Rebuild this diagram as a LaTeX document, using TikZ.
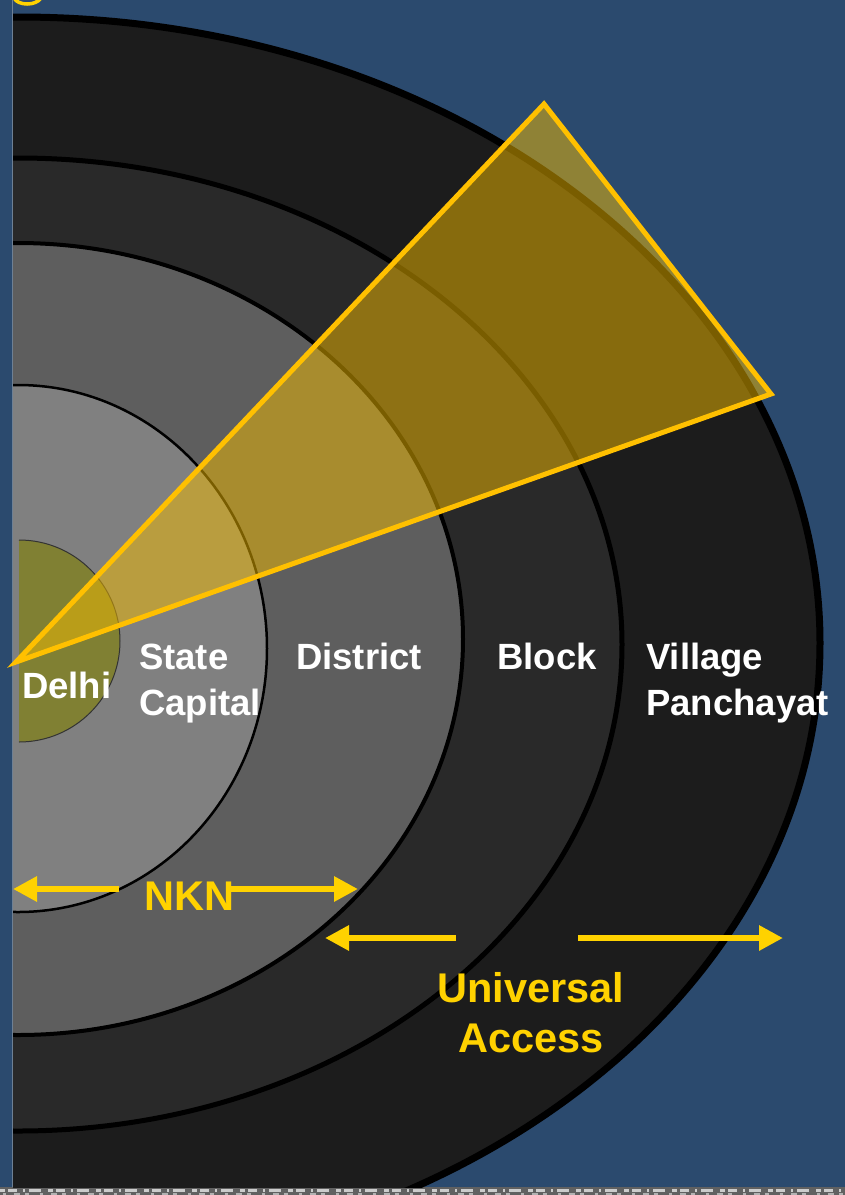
\documentclass[tikz,border=0pt]{standalone}
\usepackage{fontspec}
\setmainfont{Liberation Sans}
\usetikzlibrary{arrows.meta}
\definecolor{bgblue}{RGB}{43,74,110}
\definecolor{ringA}{RGB}{28,28,28}
\definecolor{ringB}{RGB}{41,41,41}
\definecolor{ringC}{RGB}{94,94,94}
\definecolor{ringD}{RGB}{128,128,128}
\definecolor{delhiC}{RGB}{128,128,51}
\definecolor{goldfill}{RGB}{243,186,0}
\definecolor{goldline}{RGB}{255,192,0}
\definecolor{ytext}{RGB}{255,210,0}
\definecolor{edgegray}{RGB}{110,128,148}
\tikzset{
  lbl/.style={text=white, inner sep=0pt, align=left, font=\bfseries\fontsize{36.5}{46}\selectfont},
  ylbl/.style={text=ytext, inner sep=0pt, font=\bfseries\fontsize{41.5}{50}\selectfont},
  yarrow/.style={draw=ytext, line width=6.5pt, -{Triangle[length=24pt,width=24pt]}},
  ringline/.style={draw=black}
}
\begin{document}
\begin{tikzpicture}[x=1pt,y=-1pt]
\useasboundingbox (0,0) rectangle (845,1195);
\fill[bgblue] (0,0) rectangle (845,1195);
% bottom noisy strip
\fill[black!62] (0,1187) rectangle (845,1195);
\draw[white!80!black, line width=3pt, dash pattern=on 5pt off 3pt on 9pt off 6pt on 2pt off 4pt on 12pt off 7pt] (0,1190) -- (845,1190);
\draw[black!30, line width=2pt, dash pattern=on 3pt off 8pt on 6pt off 5pt on 4pt off 11pt] (3,1193.5) -- (845,1193.5);
% fragment of title letter at top
\draw[ytext, line width=3.5pt] (14,-2) .. controls (18,6) and (36,6) .. (41,-2);
\begin{scope}
  \clip (13,-20) rectangle (845,1187);
  \filldraw[fill=ringA, ringline, line width=7pt] (18,643) ellipse [x radius=802, y radius=626];
  \filldraw[fill=ringB, ringline, line width=5pt] (18,644.5) ellipse [x radius=604, y radius=486.5];
  \filldraw[fill=ringC, ringline, line width=4pt] (18,639) ellipse [x radius=445, y radius=396];
  \filldraw[fill=ringD, ringline, line width=2.5pt] (18,648.5) ellipse [x radius=249, y radius=263.5];
  \fill[delhiC] (19,742) arc[start angle=90, end angle=-90, radius=101] -- cycle;
  \draw[black!80, line width=1pt] (19,742) arc[start angle=90, end angle=-90, radius=101];
\end{scope}
\draw[edgegray, line width=1pt] (12.5,0) -- (12.5,1187);
% wedge
\filldraw[fill=goldfill, fill opacity=0.5, draw=goldline, line width=5pt, line join=miter]
  (16,662) -- (544,104) -- (771,394) -- cycle;
% labels (base anchor of multi-line nodes = last line)
\node[lbl, anchor=base west] (delhi) at (22,698) {Delhi};
\node[lbl, anchor=base west] (state) at (139,715) {State\\Capital};
\node[lbl, anchor=base west] (district) at (296,669) {District};
\node[lbl, anchor=base west] (block) at (497,669) {Block};
\node[lbl, anchor=base west] (village) at (646,715) {Village\\Panchayat};
\node[ylbl, anchor=base west] (nkn) at (144,910) {NKN};
\node[ylbl, align=center, anchor=base] (ua) at (531,1052) {Universal\\Access};
% arrows
\coordinate (nknLs) at (119,889);
\coordinate (nknLe) at (13,889);
\coordinate (nknRs) at (226,889);
\coordinate (nknRe) at (358,889);
\coordinate (uaLs) at (456,938);
\coordinate (uaLe) at (325,938);
\coordinate (uaRs) at (578,938);
\coordinate (uaRe) at (783,938);
\draw[yarrow] (nknLs) -- (nknLe);
\draw[yarrow] (nknRs) -- (nknRe);
\draw[yarrow] (uaLs) -- (uaLe);
\draw[yarrow] (uaRs) -- (uaRe);
\end{tikzpicture}
\end{document}
